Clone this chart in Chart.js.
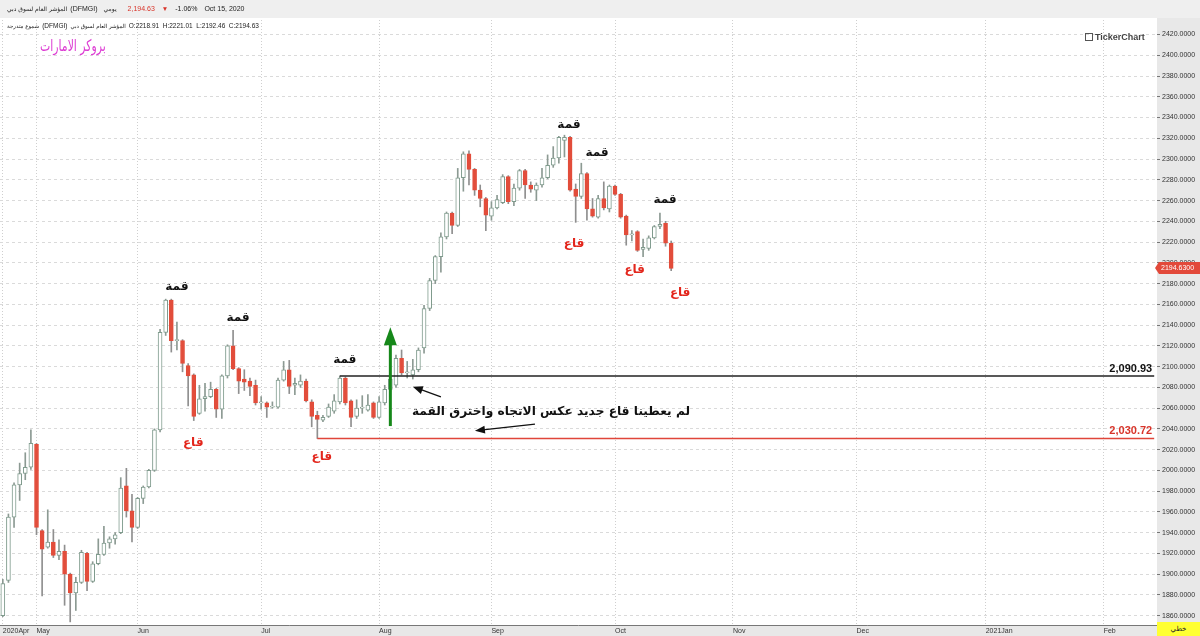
<!DOCTYPE html>
<html><head><meta charset="utf-8">
<script src="https://cdn.jsdelivr.net/npm/chart.js@4.4.1/dist/chart.umd.min.js"></script>
<style>
html,body{margin:0;padding:0;background:#fff;}
#wrap{position:relative;width:1200px;height:636px;overflow:hidden;}
canvas{position:absolute;left:0;top:0;}
.t{position:absolute;white-space:nowrap;line-height:1;color:#222;}
.row{display:flex;align-items:baseline;}
.ar{font-family:"DejaVu Sans",sans-serif;}
.la{font-family:"Liberation Sans",Arial,sans-serif;}
</style></head><body>
<div id="wrap">
<canvas id="c" width="1200" height="636"></canvas>
<div class="t row" style="left:7px;top:5px;font-size:7px;">
  <span class="ar" dir="rtl" style="font-size:6px;">المؤشر العام لسوق دبي</span>
  <span class="la" style="margin-left:3px;">(DFMGI)</span>
  <span class="ar" dir="rtl" style="font-size:6px;margin-left:6px;">يومي</span>
  <span class="la" style="margin-left:11px;color:#d8342a;">2,194.63</span>
  <span class="la" style="margin-left:7px;color:#d8342a;font-size:6.5px;">▼</span>
  <span class="la" style="margin-left:7px;">-1.06%</span>
  <span class="la" style="margin-left:7px;">Oct 15, 2020</span>
</div>
<div class="t row" style="left:7px;top:23px;font-size:6.5px;">
  <span class="ar" dir="rtl" style="font-size:5.5px;">شموع متدرجة</span>
  <span class="la" style="margin-left:3px;">(DFMGI)</span>
  <span class="ar" dir="rtl" style="font-size:5.5px;margin-left:3px;">المؤشر العام لسوق دبي</span>
  <span class="la" style="margin-left:3px;">O:2218.91 &nbsp;H:2221.01 &nbsp;L:2192.46 &nbsp;C:2194.63</span>
</div>
<div class="t ar" style="left:40px;top:38px;font-size:16px;color:#dd3bd3;transform:scaleX(0.68);transform-origin:0 0;" dir="rtl">بروكر الامارات</div>
<div class="t la" style="left:1085px;top:33px;font-size:9px;font-weight:bold;color:#444;"><span style="display:inline-block;width:6px;height:6px;border:1px solid #555;margin-right:2px;vertical-align:-1px;"></span>TickerChart</div>
<div class="t ar" style="left:1157px;top:622px;width:43px;height:14px;background:#ffff33;font-size:7px;text-align:center;line-height:14px;" dir="rtl">خطي</div>
</div>
<script>
// ---------- DATA ----------
const dates = [
"2020-04-23","2020-04-26","2020-04-27","2020-04-28","2020-04-29","2020-04-30",
"2020-05-03","2020-05-04","2020-05-05","2020-05-06","2020-05-07","2020-05-10","2020-05-11","2020-05-12","2020-05-13","2020-05-14","2020-05-17","2020-05-18","2020-05-19","2020-05-20","2020-05-21","2020-05-27","2020-05-28","2020-05-31",
"2020-06-01","2020-06-02","2020-06-03","2020-06-04","2020-06-07","2020-06-08","2020-06-09","2020-06-10","2020-06-11","2020-06-14","2020-06-15","2020-06-16","2020-06-17","2020-06-18","2020-06-21","2020-06-22","2020-06-23","2020-06-24","2020-06-25","2020-06-28","2020-06-29","2020-06-30",
"2020-07-01","2020-07-02","2020-07-05","2020-07-06","2020-07-07","2020-07-08","2020-07-09","2020-07-12","2020-07-13","2020-07-14","2020-07-15","2020-07-16","2020-07-19","2020-07-20","2020-07-21","2020-07-22","2020-07-23","2020-07-26","2020-07-27","2020-07-28","2020-07-29",
"2020-08-03","2020-08-04","2020-08-05","2020-08-06","2020-08-09","2020-08-10","2020-08-11","2020-08-12","2020-08-13","2020-08-16","2020-08-17","2020-08-18","2020-08-19","2020-08-20","2020-08-24","2020-08-25","2020-08-26","2020-08-27","2020-08-30","2020-08-31",
"2020-09-01","2020-09-02","2020-09-03","2020-09-06","2020-09-07","2020-09-08","2020-09-09","2020-09-10","2020-09-13","2020-09-14","2020-09-15","2020-09-16","2020-09-17","2020-09-20","2020-09-21","2020-09-22","2020-09-23","2020-09-24","2020-09-27","2020-09-28","2020-09-29","2020-09-30",
"2020-10-01","2020-10-04","2020-10-05","2020-10-06","2020-10-07","2020-10-08","2020-10-11","2020-10-12","2020-10-13","2020-10-14","2020-10-15"
];
const opens = [
1860,1894,1955,1986,1997,2003,
2025,1942,1926,1931,1918,1922,1900,1882,1892,1920,1893,1910,1919,1930,1934,1940,1985,1961,
1945,1973,1984,2000,2039,2133,2164,2125,2125,2101,2092,2055,2069,2071,2078,2059,2091,2120,2098,2088,2086,2082,
2065,2065,2061,2061,2087,2097,2082,2082,2086,2066,2053,2048.5,2052,2057,2066,2089,2067,2052,2060,2058,2065,
2051,2065,2078,2082,2108,2094,2092,2097,2118,2156,2183,2206,2225,2248,2236,2282,2305,2290,2270,2262,
2245,2253,2258,2283,2259,2272,2289,2275,2270,2275,2282,2294,2301,2318,2321,2271,2264,2286,2252,2244,2262,2252,
2274,2266,2245,2227,2230,2213,2214,2224,2235,2238,2218.91
];
const closes = [
1891,1955,1986,1997,2003,2026,
1945,1924,1931,1918,1922,1900,1882,1892,1921,1893,1910,1919,1930,1934,1938,1983,1961,1945,
1973,1984,2000,2039,2133,2164,2125,2126,2103,2091,2052,2069,2071,2078,2059,2091,2120,2098,2086,2085,2081,2065,
2066,2061,2062,2087,2097,2081,2084,2086,2067,2052,2049,2051,2061,2067,2089,2065,2051,2060,2061,2063,2051,
2066,2078,2088,2108,2094,2095,2097,2116,2156,2183,2206,2225,2248,2236,2282,2305,2290,2270,2262,2246,
2253,2261,2283,2259,2272,2289,2275,2271,2275,2282,2294,2301,2321,2321,2270,2264,2286,2252,2245,2262,2253,2274,
2266,2244,2227,2227.5,2212,2215,2224,2235,2237,2219,2194.63
];
const highs = [
1895,1958,1988,2007,2017,2039,
2026,1943,1962,1943,1933,1928,1901,1897,1923,1921,1912,1934,1946,1936,1940,1993,2002,1977,
1974,1985,2001,2040,2136,2165,2165,2143,2126,2103,2093,2082,2084,2085,2079,2092,2121,2135,2099,2097,2089,2087,
2071,2066,2066,2089,2105,2106,2089,2092,2088,2068,2057,2053,2064,2073,2090.93,2090,2068,2068,2072,2073,2066,
2071,2082,2091,2111,2116,2105,2107,2118,2159,2185,2207,2229,2249,2249,2291,2307,2308,2291,2275,2263,
2259,2265,2285,2284,2276,2290,2290,2278,2277,2291,2304,2312,2322,2323,2322,2276,2296,2287,2262,2265,2278,2275,
2275,2267,2246,2231,2231,2223,2226,2236,2248,2240,2221.01
];
const lows = [
1859,1892,1945,1971,1991,2001,
1938,1879,1925,1916,1914,1870,1854,1865,1891,1884,1892,1909,1918,1925,1929,1939,1955,1931,
1944,1968,1983,1999,2037,2130,2114,2116,2095,2062,2048,2054,2057,2070,2051,2050,2089,2097,2074,2077,2072,2063,
2059,2051,2060,2060,2086,2074,2073,2080,2066,2042,2030.72,2047,2051,2055,2064,2063,2042,2050,2055,2057,2050,
2050,2063,2076,2080,2092,2089,2088,2095,2113,2154,2180,2191,2223,2228,2235,2269,2275,2265,2254,2231,
2241,2252,2257,2257,2255,2270,2262,2268,2260,2273,2281,2292,2296,2302,2269,2239,2262,2241,2244,2243,2251,2249,
2265,2243,2217,2221,2211,2206,2212,2223,2233,2216,2192.46
];
// horizontal levels and the candle index where each starts
const resistance = 2090.93, resistanceStart = 60;
const support = 2030.72, supportStart = 56;
// empty future trading days up to this date
const axisEnd = "2021-02-14";
const yMin = 1851, yMax = 2434, yStep = 20;
// annotation anchors: [category index, price]
const peakLabels = [[31.0,2176.6],[41.9,2146.7],[60.9,2106.3],[100.8,2332.7],[105.8,2305.7],[117.9,2260.4]];
const troughLabels = [[33.9,2026.3],[56.8,2012.8],[101.7,2218],[112.5,2193],[120.6,2170.8]];
const greenArrow = {i:69, from:2042.7, to:2137.9};
const blackArrows = [[[78.0,2070.9],[73.0,2080.6]],[[94.75,2044.6],[84.06,2038.2]]];
const comment = {i:97.6, v:2056.2, text:"لم يعطينا قاع جديد عكس الاتجاه واخترق القمة"};
const MONTHS = ["Jan","Feb","Mar","Apr","May","Jun","Jul","Aug","Sep","Oct","Nov","Dec"];

// ---------- build ----------
const labels = dates.slice();
{ let d = new Date(dates[dates.length-1]+"T00:00:00Z"); d.setUTCDate(d.getUTCDate()+1);
  while (d.toISOString().slice(0,10) <= axisEnd) { const w=d.getUTCDay(); if(w!==5 && w!==6) labels.push(d.toISOString().slice(0,10)); d.setUTCDate(d.getUTCDate()+1); } }
const monthLabel = labels.map((s,i)=>{
  const m = +s.slice(5,7);
  if (i===0 || s.slice(5,7)!==labels[i-1].slice(5,7)) return (i===0||m===1) ? s.slice(0,4)+MONTHS[m-1] : MONTHS[m-1];
  return "";
});
const up = opens.map((o,i)=>closes[i]>=o);
const UPB="#7f9b8d", DN="#e24d3b";

const bgPlugin = {id:'bg', beforeDraw(chart){
  const c=chart.ctx, a=chart.chartArea;
  c.save();
  c.fillStyle="#fff"; c.fillRect(0,0,1200,636);
  c.fillStyle="#efefef"; c.fillRect(0,0,1200,18);
  c.fillStyle="#e8e8e8"; c.fillRect(a.right,18,1200-a.right,636-18);
  c.fillRect(0,a.bottom,a.right,636-a.bottom);
  c.strokeStyle="#777"; c.lineWidth=1;
  c.beginPath(); c.moveTo(0,a.bottom+0.5); c.lineTo(a.right,a.bottom+0.5); c.stroke();
  c.restore();
}};

function arrow(c,x1,y1,x2,y2,w,head,hw,color){
  const ang=Math.atan2(y2-y1,x2-x1);
  c.strokeStyle=color; c.fillStyle=color; c.lineWidth=w;
  c.beginPath(); c.moveTo(x1,y1); c.lineTo(x2-Math.cos(ang)*head*0.8,y2-Math.sin(ang)*head*0.8); c.stroke();
  c.beginPath(); c.moveTo(x2,y2);
  c.lineTo(x2-Math.cos(ang)*head+Math.sin(ang)*hw, y2-Math.sin(ang)*head-Math.cos(ang)*hw);
  c.lineTo(x2-Math.cos(ang)*head-Math.sin(ang)*hw, y2-Math.sin(ang)*head+Math.cos(ang)*hw);
  c.closePath(); c.fill();
}

const annPlugin = {id:'ann', afterDatasetsDraw(chart){
  const c=chart.ctx, x=chart.scales.x, y=chart.scales.y;
  const px=i=>x.getPixelForValue(i), py=v=>y.getPixelForValue(v);
  c.save();
  c.textAlign='center'; c.textBaseline='middle'; c.direction='rtl';
  c.font='bold 12px "DejaVu Sans"';
  c.fillStyle='#111';
  peakLabels.forEach(([i,v])=>c.fillText('قمة',px(i),py(v)));
  c.fillStyle='#e3261c';
  troughLabels.forEach(([i,v])=>c.fillText('قاع',px(i),py(v)));
  arrow(c,px(greenArrow.i),py(greenArrow.from),px(greenArrow.i),py(greenArrow.to),3,18,6.5,'#16881a');
  blackArrows.forEach(([[i1,v1],[i2,v2]])=>arrow(c,px(i1),py(v1),px(i2),py(v2),1.3,10,4,'#111'));
  c.fillStyle='#111'; c.font='bold 12.2px "DejaVu Sans"';
  c.fillText(comment.text,px(comment.i),py(comment.v));
  c.direction='ltr'; c.textAlign='right'; c.textBaseline='alphabetic';
  c.font='bold 11px "Liberation Sans"';
  const xe=px(labels.length-1)-2;
  c.fillStyle='#111'; c.fillText(resistance.toLocaleString('en-US',{minimumFractionDigits:2}),xe,py(resistance)-4);
  c.fillStyle='#d8342a'; c.fillText(support.toLocaleString('en-US',{minimumFractionDigits:2}),xe,py(support)-4);
  c.restore();
}, afterDraw(chart){
  const c=chart.ctx, a=chart.chartArea, y=chart.scales.y;
  const last=closes[closes.length-1], yy=Math.round(y.getPixelForValue(last));
  c.save();
  c.fillStyle='#e2493a';
  c.beginPath(); c.moveTo(a.right-2,yy); c.lineTo(a.right+2,yy-6); c.lineTo(1200,yy-6); c.lineTo(1200,yy+6); c.lineTo(a.right+2,yy+6); c.closePath(); c.fill();
  c.fillStyle='#fff'; c.font='7px "Liberation Sans"'; c.textAlign='left'; c.textBaseline='middle';
  c.fillText(last.toFixed(4),a.right+4,yy+0.5);
  c.restore();
}};

new Chart(document.getElementById('c'),{
  type:'bar',
  data:{labels,
    datasets:[
      {type:'line',data:[{x:labels[resistanceStart],y:resistance},{x:labels[labels.length-1],y:resistance}],borderColor:'#222',borderWidth:1.5,pointRadius:0,order:0},
      {type:'line',data:[{x:labels[supportStart],y:support},{x:labels[labels.length-1],y:support}],borderColor:'#e0453a',borderWidth:1.5,pointRadius:0,order:0},
      {data:opens.map((o,i)=>[o,closes[i]]),backgroundColor:up.map(u=>u?'#ffffff':DN),borderColor:up.map(u=>u?UPB:DN),borderWidth:1,borderSkipped:false,barThickness:4,minBarLength:1,grouped:false,order:1},
      {data:lows.map((l,i)=>[l,highs[i]]),backgroundColor:up.map(u=>u?'#8c9a93':'#8f8f8f'),barThickness:1,grouped:false,order:2}
    ]},
  options:{
    responsive:false,animation:false,devicePixelRatio:1,
    layout:{padding:{top:20,left:0,right:0,bottom:0}},
    plugins:{legend:{display:false},tooltip:{enabled:false}},
    scales:{
      x:{offset:true,
        grid:{offset:false,drawTicks:false,tickLength:0,color:ctx=>monthLabel[ctx.index]?'#cfcfcf':'rgba(0,0,0,0)',lineWidth:1},
        border:{display:false,dash:[1,2]},
        ticks:{autoSkip:false,maxRotation:0,minRotation:0,align:'start',padding:2,color:'#333',font:{family:'Liberation Sans',size:7},callback:(v,i)=>monthLabel[i]},
        afterFit(s){s.height=11;}
      },
      y:{position:'right',min:yMin,max:yMax,
        grid:{color:'#dadada',drawTicks:true,tickLength:3,tickColor:'#777'},
        border:{display:false,dash:[3,3]},
        ticks:{stepSize:yStep,includeBounds:false,padding:2,color:'#333',font:{family:'Liberation Sans',size:7},callback:v=>Number(v).toFixed(4)},
        afterFit(s){s.width=43;}
      }
    }
  },
  plugins:[bgPlugin,annPlugin]
});
</script>
</body></html>
